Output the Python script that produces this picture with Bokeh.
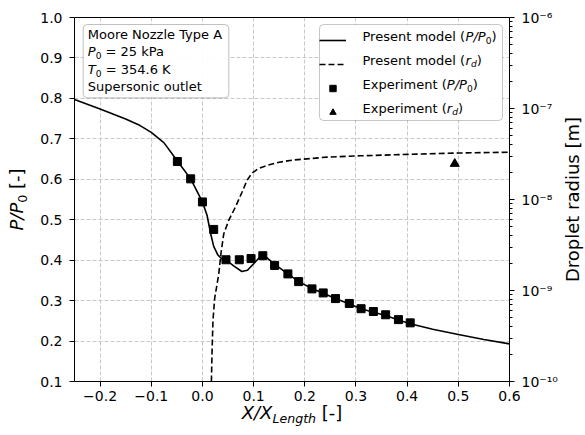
from math import cos, sin, pi

from bokeh.embed import file_html
from bokeh.models import (BoxAnnotation, CustomJSTickFormatter, FixedTicker, Grid, Label,
                          Legend, LegendItem, LinearAxis, LogAxis, LogScale,
                          PrintfTickFormatter, Range1d)
from bokeh.plotting import figure
from bokeh.resources import INLINE

# Present model: static pressure ratio along the nozzle axis
model_x = [-0.25, -0.2, -0.15, -0.125, -0.1, -0.075, -0.049, -0.023, 0.0, 0.009, 0.016,
           0.022, 0.030, 0.038, 0.048, 0.061, 0.077, 0.088, 0.100, 0.113, 0.121, 0.142,
           0.167, 0.188, 0.214, 0.236, 0.260, 0.286, 0.310, 0.334, 0.358, 0.383, 0.406,
           0.45, 0.50, 0.55, 0.60]
model_p = [0.797, 0.774, 0.749, 0.735, 0.716, 0.690, 0.645, 0.601, 0.544, 0.511, 0.466,
           0.434, 0.413, 0.403, 0.399, 0.386, 0.372, 0.375, 0.391, 0.409, 0.411, 0.389,
           0.366, 0.347, 0.330, 0.318, 0.305, 0.292, 0.280, 0.271, 0.263, 0.252, 0.243,
           0.229, 0.216, 0.204, 0.193]

# Experiment: measured pressure ratio
exp_x = [-0.049, -0.023, 0.0, 0.022, 0.046, 0.072, 0.095, 0.118, 0.141, 0.167, 0.188,
         0.214, 0.236, 0.260, 0.287, 0.310, 0.334, 0.358, 0.383, 0.406]
exp_p = [0.644, 0.601, 0.544, 0.476, 0.401, 0.401, 0.404, 0.411, 0.387, 0.366, 0.347,
         0.329, 0.319, 0.305, 0.293, 0.280, 0.273, 0.265, 0.253, 0.245]

# Present model: mean droplet radius [m]
rd_x = [0.0175, 0.019, 0.0206, 0.024, 0.028, 0.0318, 0.0365, 0.0416, 0.0513, 0.0643,
        0.0773, 0.087, 0.0968, 0.1097, 0.126, 0.15, 0.178, 0.243, 0.308, 0.40, 0.50, 0.60]
rd_r = [1.00e-10, 2.40e-10, 4.68e-10, 8.32e-10, 1.12e-9, 1.51e-9, 2.63e-9, 4.17e-9,
        5.89e-9, 8.22e-9, 1.20e-8, 1.62e-8, 1.95e-8, 2.19e-8, 2.37e-8, 2.57e-8, 2.72e-8,
        2.92e-8, 3.02e-8, 3.13e-8, 3.24e-8, 3.31e-8]

# Experiment: measured droplet radius [m]
exp_rd_x = [0.493]
exp_rd_r = [2.47e-8]

x_ticks = [-0.2, -0.1, 0.0, 0.1, 0.2, 0.3, 0.4, 0.5, 0.6]
p_ticks = [0.1, 0.2, 0.3, 0.4, 0.5, 0.6, 0.7, 0.8, 0.9, 1.0]
r_ticks = [1e-10, 1e-9, 1e-8, 1e-7, 1e-6]
r_minor = [m * d for d in r_ticks[:-1] for m in range(2, 10)]

X0, X1 = -0.25, 0.6
Y0, Y1 = 0.1, 1.0
R0, R1 = 1e-10, 1e-6

# page geometry: the axes box sits inside a full-page frame so that the
# mixed-style titles drawn around it are not clipped
W, H = 585, 435
BOX_L, BOX_R, BOX_T, BOX_B = 74, 509, 17, 381

sx = (BOX_R - BOX_L) / (X1 - X0)
sy = (BOX_B - BOX_T) / (Y1 - Y0)
dec = (BOX_B - BOX_T) / 4.0  # pixels per decade on the radius axis
x_lo, x_hi = X0 - BOX_L / sx, X1 + (W - BOX_R) / sx
y_lo, y_hi = Y0 - (H - BOX_B) / sy, Y1 + BOX_T / sy
r_lo, r_hi = R0 / 10 ** ((H - BOX_B) / dec), R1 * 10 ** (BOX_T / dec)

FONT = "DejaVu Sans"
TEXT_PX = 13
AXIS_PX = 18
TICK_PX = 14
SUB = 0.7
BASE_FIX = 0.37  # lift (in em) applied so runs sit on the intended baseline

# DejaVu Sans advance widths (em) used to lay out mixed-style labels
ADV = {" ": 0.318, "(": 0.390, ")": 0.390, "[": 0.390, "]": 0.390, "-": 0.361,
       "/": 0.337, "=": 0.838, ".": 0.318, "0": 0.636, "P": 0.603, "T": 0.611,
       "X": 0.685, "E": 0.632, "L": 0.557, "d": 0.635, "e": 0.615, "g": 0.635,
       "h": 0.634, "i": 0.278, "l": 0.278, "m": 0.974, "n": 0.634, "o": 0.612,
       "p": 0.635, "r": 0.411, "s": 0.521, "t": 0.392, "x": 0.592}


def text_width(s, px):
    return sum(ADV.get(c, 0.6) for c in s) * px


def rich_text(plot, cx, cy, parts, angle=0.0, align="left"):
    """Draw text runs (text, size_px, style, drop_px) starting at page pixel (cx, cy)."""
    x, y = cx, H - cy
    ux, uy = cos(angle), sin(angle)
    dx, dy = sin(angle), -cos(angle)
    pos = 0.0
    for text, size, style, drop in parts:
        body = text.lstrip(" ")
        pos += (len(text) - len(body)) * ADV[" "] * size
        d = drop - BASE_FIX * size
        plot.add_layout(Label(
            x=x + ux * pos + dx * d, y=y + uy * pos + dy * d,
            x_units="screen", y_units="screen", text=body, angle=angle, level="overlay",
            text_font=FONT, text_font_size=f"{size:.1f}px", text_font_style=style,
            text_align=align, text_baseline="alphabetic", text_color="black"))
        pos += text_width(body, size)


p = figure(width=W, height=H, output_backend="svg", toolbar_location=None,
           x_axis_type=None, y_axis_type=None, min_border=0,
           x_range=Range1d(x_lo, x_hi), y_range=Range1d(y_lo, y_hi))
p.extra_y_ranges = {"r": Range1d(r_lo, r_hi)}
p.extra_y_scales = {"r": LogScale()}
p.background_fill_color = "white"
p.border_fill_color = "white"
p.outline_line_color = None

# axes drawn along the edges of the axes box
xaxis = LinearAxis(fixed_location=Y0, bounds=(X0, X1), ticker=FixedTicker(ticks=x_ticks))
xaxis.formatter = CustomJSTickFormatter(code="""
    const v = Math.abs(tick) < 1e-9 ? 0 : tick;
    return v.toFixed(1).replace("-", "\u2212");
""")
yaxis = LinearAxis(fixed_location=X0, bounds=(Y0, Y1), ticker=FixedTicker(ticks=p_ticks),
                   formatter=PrintfTickFormatter(format="%.1f"))
raxis = LogAxis(y_range_name="r", fixed_location=X1, bounds=(R0, R1),
                ticker=FixedTicker(ticks=r_ticks, minor_ticks=r_minor))
raxis.formatter = CustomJSTickFormatter(code="""
    const sup = {"-": "\u207b", "0": "\u2070", "1": "\u00b9", "2": "\u00b2", "3": "\u00b3",
                 "4": "\u2074", "5": "\u2075", "6": "\u2076", "7": "\u2077", "8": "\u2078",
                 "9": "\u2079"};
    const e = Math.round(Math.log10(tick));
    return "10" + String(e).split("").map(c => sup[c]).join("");
""")
top = LinearAxis(fixed_location=Y1, bounds=(X0, X1), ticker=FixedTicker(ticks=[]))

for ax in (xaxis, yaxis, raxis, top):
    ax.axis_line_color = "black"
    ax.axis_line_width = 1
    ax.major_tick_line_color = "black"
    ax.major_tick_out = 5
    ax.major_tick_in = 0
    ax.minor_tick_line_color = "black"
    ax.minor_tick_out = 0
    ax.minor_tick_in = 0
    ax.major_label_text_font = FONT
    ax.major_label_text_font_size = f"{TICK_PX}px"
    ax.major_label_text_color = "black"
xaxis.major_label_standoff = 4
yaxis.major_label_standoff = 7
raxis.major_label_standoff = 7
raxis.minor_tick_out = 3

p.add_layout(xaxis, "below")
p.add_layout(yaxis, "left")
p.add_layout(raxis, "right")
p.add_layout(top, "above")

# dashed grid inside the axes box
for dim, ticks, bounds, cross in ((0, x_ticks, (X0, X1), (Y0, Y1)),
                                  (1, p_ticks, (Y0, Y1), (X0, X1))):
    g = Grid(dimension=dim, ticker=FixedTicker(ticks=ticks), bounds=bounds,
             grid_line_color="#c8c8c8", grid_line_width=1, grid_line_dash="4 2")
    if "cross_bounds" in Grid.properties():
        g.cross_bounds = cross
    p.add_layout(g)

# data
solid = p.line(model_x, model_p, line_color="black", line_width=1.6)
dashed = p.line(rd_x, rd_r, y_range_name="r", line_color="black", line_width=1.6,
                line_dash="6 3")
squares = p.scatter(exp_x, exp_p, marker="square", size=8, color="black")
triangles = p.scatter(exp_rd_x, exp_rd_r, y_range_name="r", marker="triangle", size=9,
                      color="black")


def frame_box(left, top_px, right, bottom_px, color):
    b = BoxAnnotation(left=left, right=right, bottom=H - bottom_px, top=H - top_px,
                      left_units="screen", right_units="screen",
                      bottom_units="screen", top_units="screen",
                      fill_color="white", fill_alpha=0.92,
                      line_color=color, line_width=1)
    if "border_radius" in BoxAnnotation.properties():
        b.border_radius = 4
    p.add_layout(b)


# legend: framed box, glyph samples from the renderers, rich-text labels on top
LEG_L, LEG_T = 319, 24
LEG_PAD, LEG_GW, LEG_GH, LEG_GAP, LEG_LW, LEG_STANDOFF = 4, 27, 16, 8, 136, 12
leg_w = 2 * LEG_PAD + LEG_GW + LEG_STANDOFF + LEG_LW
leg_h = 2 * LEG_PAD + 4 * LEG_GH + 3 * LEG_GAP
frame_box(LEG_L, LEG_T, LEG_L + leg_w, LEG_T + leg_h, "#444444")

legend = Legend(items=[LegendItem(label=" ", renderers=[r])
                       for r in (solid, dashed, squares, triangles)],
                location=(LEG_L, H - LEG_T - leg_h), orientation="vertical",
                glyph_width=LEG_GW, glyph_height=LEG_GH, label_height=LEG_GH,
                label_width=LEG_LW, label_standoff=LEG_STANDOFF, spacing=LEG_GAP,
                padding=LEG_PAD, margin=0,
                label_text_font=FONT, label_text_font_size=f"{TEXT_PX}px",
                border_line_color=None, background_fill_alpha=0)
p.add_layout(legend, "center")

sub_px = TEXT_PX * SUB
sub_drop = 2.6
text_x = LEG_L + LEG_PAD + LEG_GW + LEG_STANDOFF
entries = [("Present model (", "P/P", "0"), ("Present model (", "r", "d"),
           ("Experiment (", "P/P", "0"), ("Experiment (", "r", "d")]
for i, (head, sym, idx) in enumerate(entries):
    row_mid = LEG_T + LEG_PAD + LEG_GH / 2 + i * (LEG_GH + LEG_GAP)
    rich_text(p, text_x, row_mid + 4.6, [(head, TEXT_PX, "normal", 0),
                                         (sym, TEXT_PX, "italic", 0),
                                         (idx, sub_px, "italic" if idx == "d" else "normal",
                                          sub_drop),
                                         (")", TEXT_PX, "normal", 0)])

# case description box
frame_box(82.7, 24, 228.3, 97.3, "#333333")
rich_text(p, 87.3, 38.8, [("Moore Nozzle Type A", TEXT_PX, "normal", 0)])
rich_text(p, 87.3, 56.0, [("P", TEXT_PX, "italic", 0), ("0", sub_px, "normal", sub_drop),
                          (" = 25 kPa", TEXT_PX, "normal", 0)])
rich_text(p, 87.3, 73.8, [("T", TEXT_PX, "italic", 0), ("0", sub_px, "normal", sub_drop),
                          (" = 354.6 K", TEXT_PX, "normal", 0)])
rich_text(p, 87.3, 90.7, [("Supersonic outlet", TEXT_PX, "normal", 0)])

# axis titles
ax_sub = AXIS_PX * SUB
ax_drop = 3.7
mid_x = (BOX_L + BOX_R) / 2
mid_y = (BOX_T + BOX_B) / 2
xl_parts = [("X/X", AXIS_PX, "italic", 0), ("Length", ax_sub, "italic", ax_drop),
            (" [-]", AXIS_PX, "normal", 0)]
xl_w = sum(text_width(t, s) for t, s, _, _ in xl_parts)
rich_text(p, mid_x - xl_w / 2, 418.5, xl_parts)

yl_parts = [("P/P", AXIS_PX, "italic", 0), ("0", ax_sub, "normal", ax_drop),
            (" [-]", AXIS_PX, "normal", 0)]
yl_w = sum(text_width(t, s) for t, s, _, _ in yl_parts)
rich_text(p, 22.6, mid_y + yl_w / 2, yl_parts, angle=pi / 2)

rich_text(p, 579.0, mid_y, [("Droplet radius [m]", AXIS_PX, "normal", 0)],
          angle=pi / 2, align="center")

open("out.html", "w").write(file_html(p, INLINE))
